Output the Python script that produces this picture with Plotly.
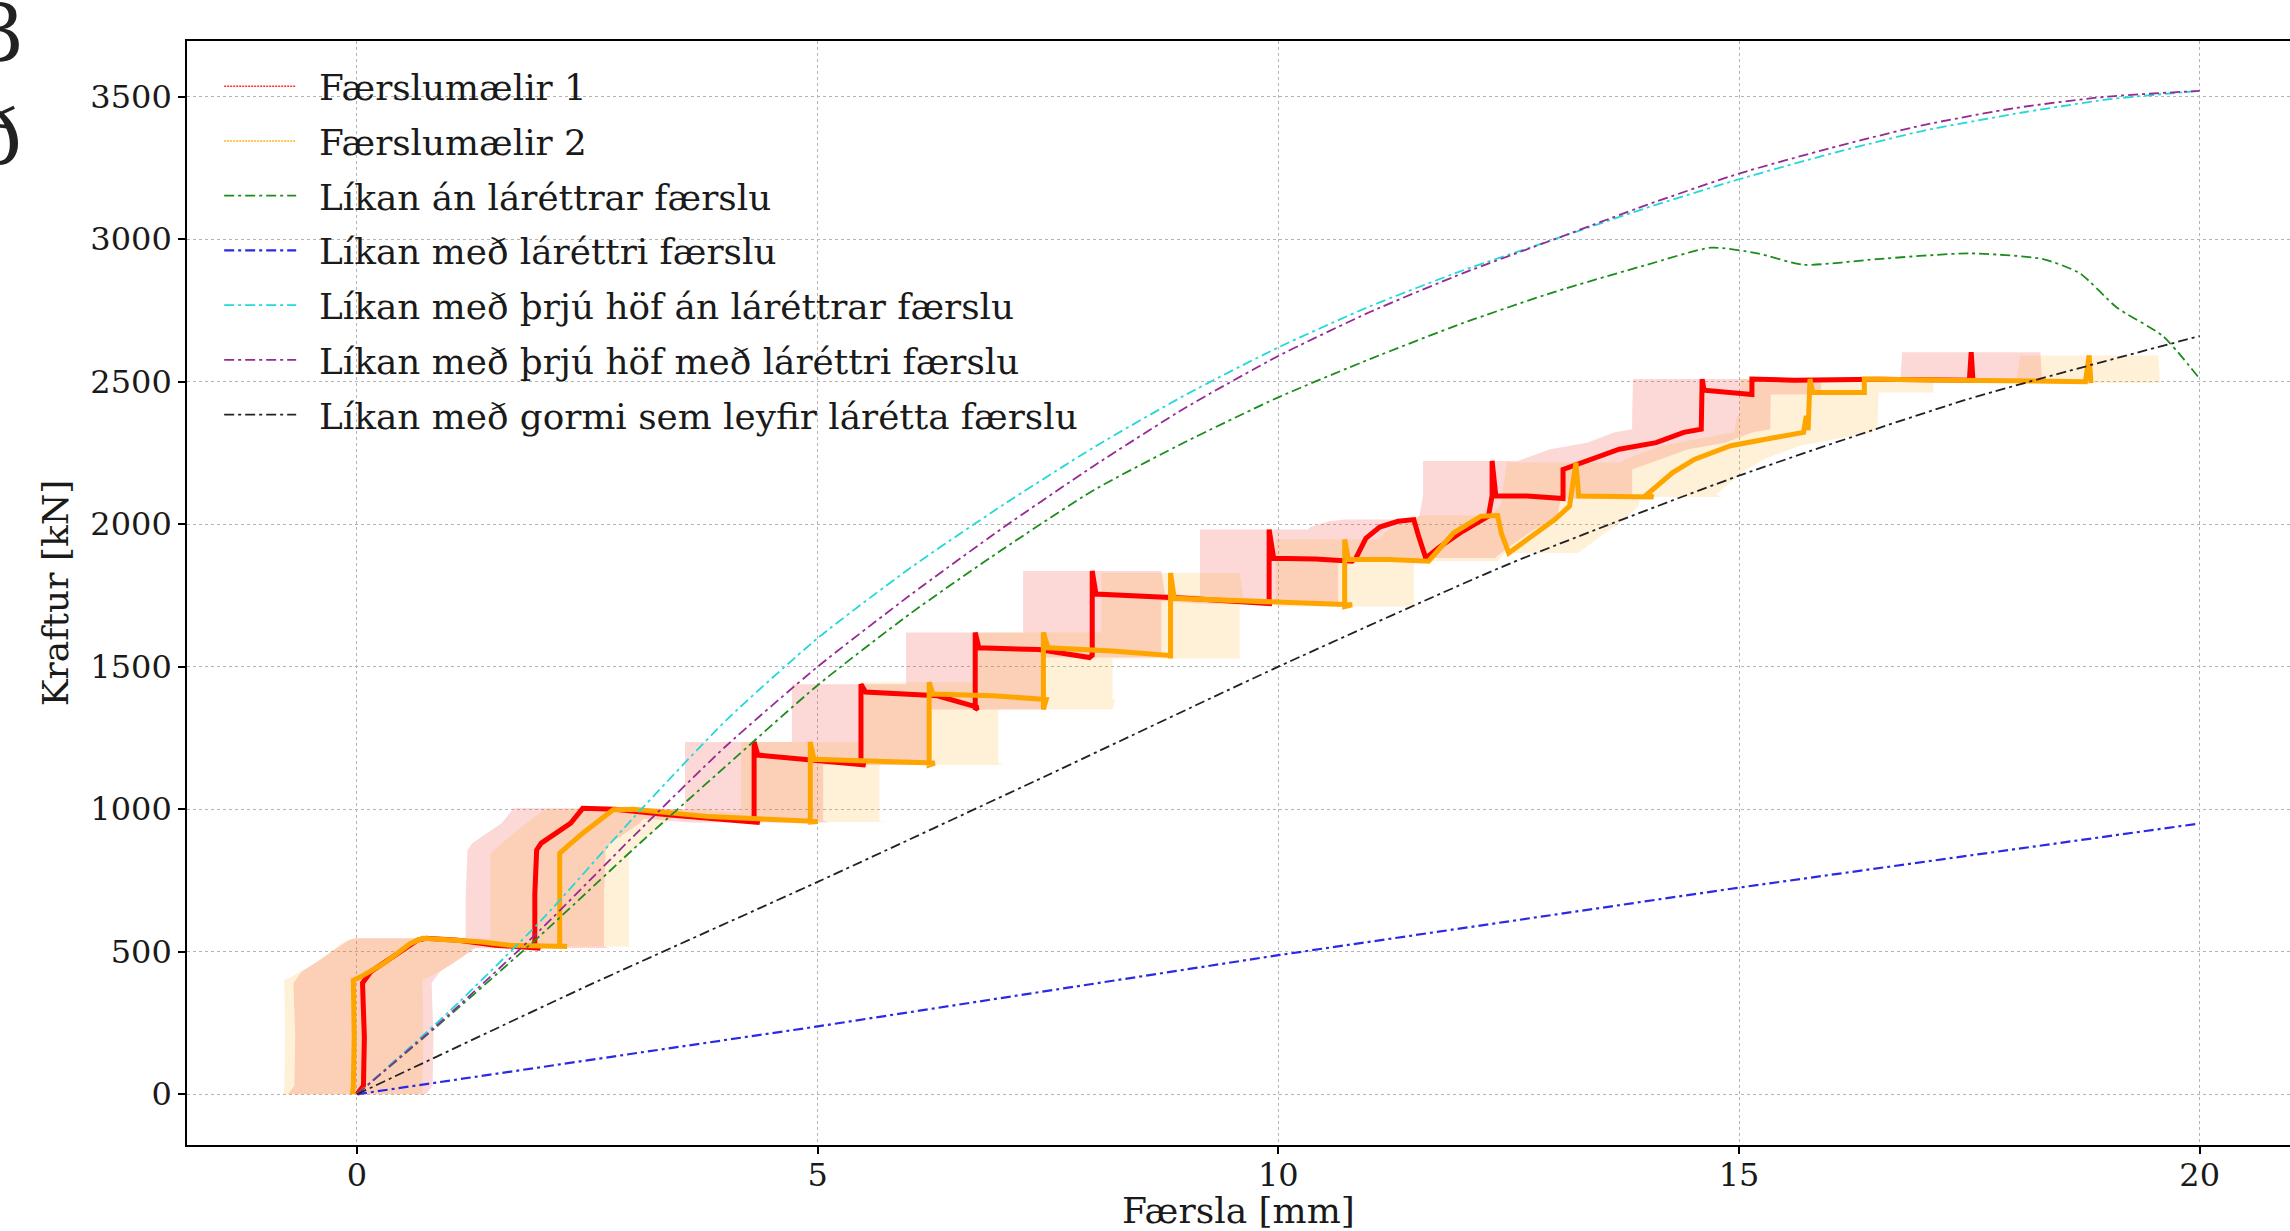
import plotly.graph_objects as go

# ---------------- data ----------------
# Færslumælir 1 (red)
F1_X = [0.00, 0.07, 0.08, 0.06, 0.15, 0.40, 0.66, 0.75, 1.10, 1.50, 1.99,
        1.93, 1.93, 1.95, 2.00, 2.16, 2.32, 2.45, 2.80, 3.40, 4.37,
        4.31, 4.31, 4.31, 4.35, 4.90, 5.52,
        5.47, 5.47, 5.47, 5.52, 6.30, 6.74,
        6.71, 6.71, 6.71, 6.75, 7.40, 7.95,
        7.98, 7.98, 7.98, 8.02, 9.00, 9.93,
        9.90, 9.90, 9.90, 9.95, 10.40, 10.80,
        10.84, 10.95, 11.10, 11.30, 11.47, 11.52, 11.60,
        11.75, 12.00, 12.28, 12.32, 12.32, 12.36, 12.70, 13.09,
        13.09, 13.30, 13.70, 14.10, 14.40, 14.59,
        14.59, 14.60, 14.62, 14.90, 15.14,
        15.14, 15.60, 16.50, 17.50, 17.52, 17.54]
F1_Y = [0, 30, 200, 390, 430, 482, 541, 547, 540, 523, 512,
        520, 700, 857, 881, 916, 951, 1003, 1000, 980, 953,
        960, 1100, 1236, 1190, 1175, 1155,
        1160, 1300, 1438, 1411, 1398, 1357,
        1350, 1500, 1620, 1566, 1560, 1532,
        1540, 1700, 1836, 1755, 1740, 1721,
        1725, 1850, 1981, 1880, 1878, 1870,
        1880, 1950, 1990, 2010, 2016, 1960, 1881,
        1920, 1975, 2028, 2100, 2222, 2100, 2099, 2090,
        2192, 2216, 2263, 2286, 2322, 2333,
        2380, 2509, 2470, 2460, 2455,
        2509, 2505, 2508, 2505, 2603, 2500]

# Færslumælir 2 (orange)
F2_X = [-0.05, -0.04, -0.03, -0.04, 0.04, 0.29, 0.58, 0.71, 1.33, 1.66, 2.28,
        2.20, 2.20, 2.20, 2.24, 2.45, 2.78, 3.00, 3.82, 5.00,
        4.92, 4.92, 4.92, 4.96, 5.60, 6.27,
        6.21, 6.21, 6.21, 6.25, 6.90, 7.48,
        7.45, 7.45, 7.45, 7.50, 8.20, 8.83,
        8.83, 8.83, 8.83, 8.87, 9.80, 10.80,
        10.72, 10.72, 10.72, 10.76, 11.20, 11.63,
        11.90, 12.20, 12.38, 12.42, 12.50, 12.70, 13.00, 13.16, 13.23, 13.26, 13.70, 14.07,
        14.00, 14.28, 14.52, 14.91, 15.39, 15.70, 15.73, 15.75,
        15.77, 15.80, 16.36, 16.36, 17.30, 18.76, 18.80, 18.82]
F2_Y = [0, 30, 200, 400, 412, 459, 529, 547, 535, 523, 518,
        520, 700, 845, 857, 916, 998, 1000, 974, 957,
        955, 1100, 1236, 1175, 1168, 1162,
        1155, 1300, 1445, 1404, 1398, 1385,
        1350, 1500, 1620, 1566, 1555, 1539,
        1529, 1700, 1829, 1740, 1730, 1717,
        1711, 1830, 1946, 1876, 1876, 1870,
        1969, 2028, 2030, 1969, 1899, 1946, 2016, 2063, 2216, 2099, 2099, 2095,
        2104, 2181, 2228, 2275, 2304, 2322, 2380, 2330,
        2509, 2462, 2462, 2509, 2505, 2500, 2592, 2495]

# half width of the shaded uncertainty band (horizontal error) [mm]
BAND_HALF = 0.75

# Model curves
MODEL_X = [0, 1, 2, 3, 4, 5, 6, 7, 8, 9, 10, 11, 12, 13, 14, 15, 16, 17, 18, 19, 20]
GREEN_X = [0, 1, 2, 3, 4, 5, 6, 7, 8, 9, 10, 11, 12, 13, 14, 14.7, 15.2, 15.7,
           16.5, 17.5, 18.3, 18.7, 19.1, 19.6, 20]
GREEN_Y = [0, 275, 560, 860, 1150, 1435, 1685, 1910, 2120, 2290, 2445, 2580, 2705,
           2815, 2910, 2970, 2950, 2910, 2930, 2950, 2930, 2880, 2760, 2660, 2510]
BLUE_X = [0, 5, 10, 15, 20]
BLUE_Y = [0, 238, 488, 725, 950]
CYAN_Y = [0, 290, 610, 970, 1310, 1600, 1845, 2065, 2270, 2455, 2620, 2765, 2890,
          3000, 3110, 3210, 3300, 3380, 3440, 3490, 3520]
PURPLE_Y = [0, 280, 580, 905, 1220, 1500, 1750, 1985, 2205, 2410, 2590, 2745, 2880,
            3000, 3120, 3230, 3320, 3400, 3460, 3500, 3520]
BLACK_X = [0, 2.5, 5, 7.5, 10, 12.5, 15, 17.5, 20]
BLACK_Y = [0, 380, 745, 1120, 1500, 1860, 2170, 2440, 2660]

LABELS = ["Færslumælir 1", "Færslumælir 2", "Líkan án láréttrar færslu",
          "Líkan með láréttri færslu", "Líkan með þrjú höf án láréttrar færslu",
          "Líkan með þrjú höf með láréttri færslu",
          "Líkan með gormi sem leyfir lárétta færslu"]

X_TICKS = [0, 5, 10, 15, 20]
Y_TICKS = [0, 500, 1000, 1500, 2000, 2500, 3000, 3500]

FONT = "DejaVu Serif"
DASHDOT = "10px,4px,3px,4px"
LEG_PAD = "\u2002"  # gap between legend symbol and label

fig = go.Figure()


def band(xs, ys, d):
    """Union of horizontal +-d bands swept along each segment (one quad per segment,
    all quads with the same orientation so overlaps stay filled)."""
    bx, by = [], []
    for i in range(len(xs) - 1):
        (xa, ya), (xb, yb) = (xs[i], ys[i]), (xs[i + 1], ys[i + 1])
        if ya > yb:
            (xa, ya), (xb, yb) = (xb, yb), (xa, ya)
        bx += [xa - d, xb - d, xb + d, xa + d, xa - d, None]
        by += [ya, yb, yb, ya, ya, None]
    return bx, by


bx, by = band(F1_X, F1_Y, BAND_HALF)
fig.add_trace(go.Scatter(x=bx, y=by, mode="lines", fill="toself",
                         fillcolor="rgba(240,60,50,0.20)", line=dict(width=0),
                         showlegend=False, hoverinfo="skip"))
bx, by = band(F2_X, F2_Y, BAND_HALF)
fig.add_trace(go.Scatter(x=bx, y=by, mode="lines", fill="toself",
                         fillcolor="rgba(255,170,40,0.18)", line=dict(width=0),
                         showlegend=False, hoverinfo="skip"))

# measurements (thick, noisy looking lines)
fig.add_trace(go.Scatter(x=F1_X, y=F1_Y, mode="lines",
                         line=dict(color="#ff0000", width=5), showlegend=False))
fig.add_trace(go.Scatter(x=F2_X, y=F2_Y, mode="lines",
                         line=dict(color="#ffa500", width=5), showlegend=False))

# legend proxies for measurements (thin dotted, as in the reference legend)
fig.add_trace(go.Scatter(x=[None], y=[None], mode="lines", name=LEG_PAD + LABELS[0],
                         legendgroup="g0",
                         line=dict(color="#ff3030", width=1.5, dash="2px,1px")))
fig.add_trace(go.Scatter(x=[None], y=[None], mode="lines", name=LEG_PAD + LABELS[1],
                         legendgroup="g1",
                         line=dict(color="#ffb020", width=1.5, dash="2px,1px")))

# models
fig.add_trace(go.Scatter(x=GREEN_X, y=GREEN_Y, mode="lines", name=LEG_PAD + LABELS[2],
                         legendgroup="g2", line_shape="spline",
                         line=dict(color="#1c8c1c", width=1.8, dash=DASHDOT, smoothing=0.6)))
fig.add_trace(go.Scatter(x=BLUE_X, y=BLUE_Y, mode="lines", name=LEG_PAD + LABELS[3],
                         legendgroup="g3",
                         line=dict(color="#2a2ae6", width=2.2, dash=DASHDOT)))
fig.add_trace(go.Scatter(x=MODEL_X, y=CYAN_Y, mode="lines", name=LEG_PAD + LABELS[4],
                         legendgroup="g4", line_shape="spline",
                         line=dict(color="#22d8d8", width=1.8, dash=DASHDOT, smoothing=0.6)))
fig.add_trace(go.Scatter(x=MODEL_X, y=PURPLE_Y, mode="lines", name=LEG_PAD + LABELS[5],
                         legendgroup="g5", line_shape="spline",
                         line=dict(color="#952a95", width=1.8, dash=DASHDOT, smoothing=0.6)))
fig.add_trace(go.Scatter(x=BLACK_X, y=BLACK_Y, mode="lines", name=LEG_PAD + LABELS[6],
                         legendgroup="g6", line_shape="spline",
                         line=dict(color="#222222", width=1.8, dash=DASHDOT, smoothing=0.6)))

axis_common = dict(
    showgrid=True, gridcolor="#b4b4b4", griddash="dot", gridwidth=1.2,
    zeroline=False, showline=True, linecolor="black", linewidth=1.6,
    ticks="outside", ticklen=7, tickwidth=1.5, tickcolor="black",
    tickfont=dict(family=FONT, size=32, color="#1a1a1a"),
)

fig.update_layout(
    width=2290, height=1231,
    margin=dict(l=187, r=0, t=41, b=86, pad=0),
    paper_bgcolor="white", plot_bgcolor="white",
    font=dict(family=FONT, color="#1a1a1a"),
    xaxis=dict(range=[-1.845, 20.98], tickvals=X_TICKS, mirror=True,
               ticklabelstandoff=-6,
               title=dict(text="Færsla [mm]", font=dict(family=FONT, size=36),
                          standoff=4),
               **axis_common),
    yaxis=dict(range=[-178, 3695], tickvals=Y_TICKS, mirror=False,
               title=dict(text="Kraftur [kN]", font=dict(family=FONT, size=36),
                          standoff=11),
               **axis_common),
    legend=dict(x=0.0153, y=0.986, xanchor="left", yanchor="top",
                bgcolor="rgba(0,0,0,0)", borderwidth=0,
                font=dict(family=FONT, size=35.8, color="#1a1a1a"),
                tracegroupgap=5.2, itemwidth=72),
    showlegend=True,
)

# fragments of neighbouring text cut by the left edge of the picture
fig.add_annotation(text="3", xref="paper", yref="paper", x=(27 - 187) / 2103,
                   y=(1145 - 34) / 1104, xanchor="right", yanchor="middle",
                   showarrow=False, font=dict(family=FONT, size=78, color="#222"))
fig.add_annotation(text="ð", xref="paper", yref="paper", x=(24 - 187) / 2103,
                   y=(1145 - 137) / 1104, xanchor="right", yanchor="middle",
                   showarrow=False, font=dict(family=FONT, size=78, color="#222"))

fig.write_html("out.html", config={"displayModeBar": False},
               post_script="document.body.style.margin='0px';")
